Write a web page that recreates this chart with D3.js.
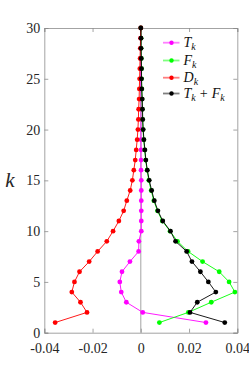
<!DOCTYPE html>
<html>
<head>
<meta charset="utf-8">
<script src="https://cdn.jsdelivr.net/npm/d3@7"></script>
<style>
  body { margin: 0; background: #fff; }
  text { font-family: "Liberation Serif", "DejaVu Serif", serif; }
</style>
</head>
<body>
<div id="chart"></div>
<script>
// k = 1..30
var ks = d3.range(1, 31);
var Tk = [0.027, 0.0008, -0.006, -0.0081, -0.0087, -0.0078, -0.0045, -0.0009, -0.0008, 0.0002,
          0.0002, 0.0002, 0.0002, 0.0002, 0.0002, 0.0001, 0.0001, 0.0001, 0.0001, 0.0001,
          0.0001, 0.0001, 0.0001, 0, 0, 0, 0, 0, 0, 0];
var Fk = [0.0077, 0.0197, 0.0292, 0.039, 0.0366, 0.0325, 0.0256, 0.0196, 0.0152, 0.0121,
          0.0089, 0.0069, 0.0054, 0.0043, 0.0033, 0.0026, 0.002, 0.0016, 0.0012, 0.0009,
          0.0007, 0.0006, 0.0005, 0.0004, 0.0003, 0.0003, 0.0002, 0.0001, 0.0001, 0];
var Dk = [-0.0355, -0.0223, -0.025, -0.0286, -0.0275, -0.0254, -0.0214, -0.0179, -0.0141, -0.0115,
          -0.0091, -0.0071, -0.0058, -0.0044, -0.0035, -0.0029, -0.0023, -0.0019, -0.0015, -0.0012,
          -0.001, -0.0009, -0.0007, -0.0006, -0.0005, -0.0004, -0.0003, -0.0002, -0.0001, 0];
var TFk = [0.0348, 0.0204, 0.0234, 0.0311, 0.028, 0.0247, 0.0212, 0.019, 0.0144, 0.0123,
           0.0091, 0.0071, 0.0056, 0.0045, 0.0035, 0.0027, 0.0021, 0.0017, 0.0013, 0.001,
           0.0008, 0.0007, 0.0006, 0.0004, 0.0003, 0.0003, 0.0002, 0.0001, 0.0001, 0];

var xTicks = [-0.04, -0.02, 0, 0.02, 0.04];
var xTickLabels = ["-0.04", "-0.02", "0", "0.02", "0.04"];
var yTicks = [0, 5, 10, 15, 20, 25, 30];

var series = [
  {name: "T", sub: "k", extra: false, values: Tk, color: "#ff00ff"},
  {name: "F", sub: "k", extra: false, values: Fk, color: "#00ff00"},
  {name: "D", sub: "k", extra: false, values: Dk, color: "#ff0000"},
  {name: "T", sub: "k", extra: true, values: TFk, color: "#000000"}
];

(function() {
  var W = 249, H = 374;
  var mLeft = 44.3, mRight = 237.3, mTop = 28, mBottom = 332.7;

  var x = d3.scaleLinear().domain([-0.04, 0.04]).range([mLeft, mRight]);
  var y = d3.scaleLinear().domain([0, 30]).range([mBottom, mTop]);

  var svg = d3.select("#chart").append("svg")
    .attr("width", W)
    .attr("height", H);

  var axisColor = "#8c8c8c";
  var serif = "'Liberation Serif', 'DejaVu Serif', serif";

  // zero line
  svg.append("line")
    .attr("x1", x(0)).attr("x2", x(0))
    .attr("y1", y(0)).attr("y2", y(30))
    .attr("stroke", axisColor)
    .attr("stroke-width", 0.8);

  // axes (box with inward ticks)
  var xAxis = d3.axisBottom(x).tickValues(xTicks).tickSize(-4).tickPadding(10)
    .tickFormat(function(d, i) { return xTickLabels[i]; });
  var xAxisTop = d3.axisTop(x).tickValues(xTicks).tickSize(-4).tickFormat("");
  var yAxis = d3.axisLeft(y).tickValues(yTicks).tickSize(-4).tickPadding(4);
  var yAxisRight = d3.axisRight(y).tickValues(yTicks).tickSize(-4).tickFormat("");

  svg.append("g").attr("class", "axis")
    .attr("transform", "translate(0," + mBottom + ")").call(xAxis);
  svg.append("g").attr("class", "axis")
    .attr("transform", "translate(0," + mTop + ")").call(xAxisTop);
  svg.append("g").attr("class", "axis")
    .attr("transform", "translate(" + mLeft + ",0)").call(yAxis);
  svg.append("g").attr("class", "axis")
    .attr("transform", "translate(" + mRight + ",0)").call(yAxisRight);

  svg.selectAll(".axis").attr("font-family", serif).attr("font-size", 14);
  svg.selectAll(".axis path").attr("stroke", axisColor).attr("stroke-width", 0.8);
  svg.selectAll(".axis line").attr("stroke", axisColor).attr("stroke-width", 0.8);
  svg.selectAll(".axis text").attr("fill", "#262626");

  // y label
  svg.append("text")
    .attr("x", 10).attr("y", 187)
    .attr("text-anchor", "middle")
    .style("font-size", "21px")
    .style("font-style", "italic")
    .attr("fill", "#262626")
    .text("k");

  // lines + markers
  var line = d3.line()
    .x(function(d) { return x(d); })
    .y(function(d, i) { return y(ks[i]); });

  series.forEach(function(s) {
    svg.append("path")
      .datum(s.values)
      .attr("d", line)
      .attr("fill", "none")
      .attr("stroke", s.color)
      .attr("stroke-width", 0.9);

    svg.append("g").selectAll("circle")
      .data(s.values)
      .enter()
      .append("circle")
      .attr("cx", function(d) { return x(d); })
      .attr("cy", function(d, i) { return y(ks[i]); })
      .attr("r", 2.4)
      .attr("fill", s.color);
  });

  // legend
  var legend = svg.append("g");
  var rowY = [42.7, 60.5, 77.7, 93.5];
  series.forEach(function(s, i) {
    var g = legend.append("g").attr("transform", "translate(0," + rowY[i] + ")");
    g.append("line")
      .attr("x1", 163).attr("x2", 179.5)
      .attr("y1", 0).attr("y2", 0)
      .attr("stroke", s.color)
      .attr("stroke-opacity", 0.5)
      .attr("stroke-width", 1.8);
    g.append("circle").attr("cx", 171.5).attr("cy", 0).attr("r", 2.2).attr("fill", s.color);
    var t = g.append("text")
      .attr("x", 183.5).attr("y", 4.5)
      .style("font-size", "14px")
      .attr("fill", "#111");
    t.append("tspan").style("font-style", "italic").text(s.name);
    t.append("tspan").style("font-style", "italic").style("font-size", "10px")
      .attr("dy", 3).text(s.sub);
    if (s.extra) {
      t.append("tspan").attr("dy", -3).attr("dx", 4).text("+");
      t.append("tspan").style("font-style", "italic").attr("dx", 4).text("F");
      t.append("tspan").style("font-style", "italic").style("font-size", "10px")
        .attr("dy", 3).text("k");
    }
  });
})();
</script>
</body>
</html>
